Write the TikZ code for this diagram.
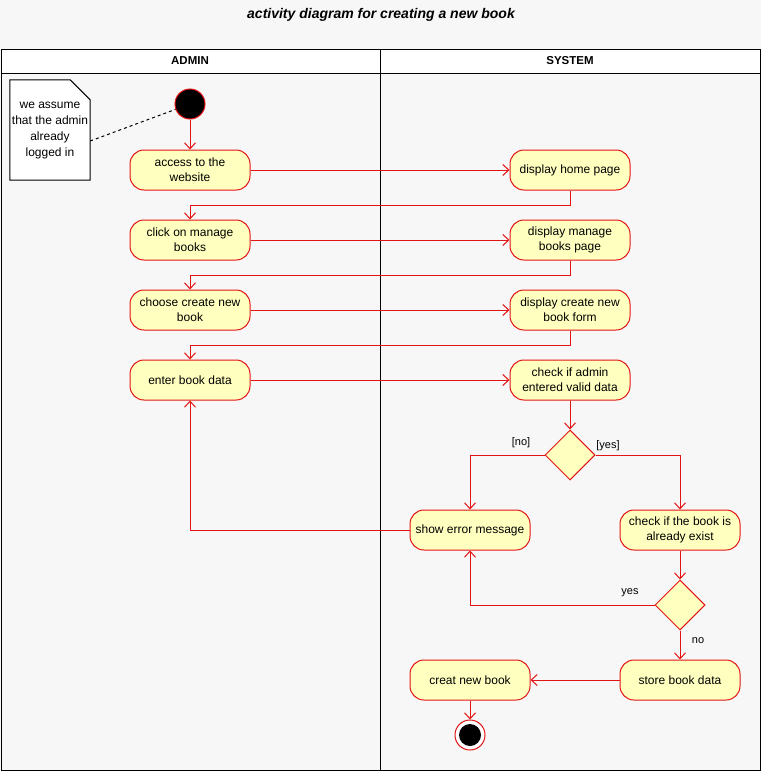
\documentclass[tikz,border=0pt]{standalone}
\usepackage{fontspec}
\setmainfont{Liberation Sans}
\usetikzlibrary{arrows.meta,shapes.geometric}
\definecolor{bgc}{HTML}{F7F7F7}
\definecolor{actc}{HTML}{FFFFC0}
\definecolor{rdc}{HTML}{E31414}
\tikzset{
  act/.style={draw=rdc, fill=actc, line width=1pt, rounded corners=14pt,
    minimum width=120pt, minimum height=40pt, inner sep=1pt, align=center,
    font=\fontsize{12}{15}\selectfont},
  dec/.style={draw=rdc, fill=actc, line width=1pt, diamond, aspect=1,
    minimum width=50pt, minimum height=50pt, inner sep=0pt},
  arr/.style={draw=rdc, line width=1pt, -{Straight Barb[length=6pt,width=11pt]}},
  lbl/.style={font=\fontsize{11}{13}\selectfont, inner sep=1pt},
  lanehead/.style={font=\bfseries\fontsize{11.5}{13}\selectfont}
}
\begin{document}
\begin{tikzpicture}[x=1pt,y=-1pt]
\fill[bgc] (0,0) rectangle (761,771);
\useasboundingbox (0,0) rectangle (761,771);
% title
\node[font=\bfseries\itshape\fontsize{14}{16}\selectfont] (title) at (381,15) {activity diagram for creating a new book};
% pool
\draw[line width=1pt, fill=white] (1,49) rectangle (760,73);
\draw[line width=1pt] (1,73) rectangle (760,770);
\draw[line width=1pt] (380,49) -- (380,770);
\node[lanehead] (ladmin) at (190,61) {ADMIN};
\node[lanehead] (lsys) at (570,61) {SYSTEM};
% note
\node[minimum width=80pt, minimum height=100pt, inner sep=0pt] (notebox) at (50,130) {};
\filldraw[line width=1pt, fill=white] (notebox.north west) -- ([xshift=-20pt]notebox.north east) -- ([yshift=-20pt]notebox.north east) -- (notebox.south east) -- (notebox.south west) -- cycle;
\node[align=center, inner sep=0pt, font=\fontsize{12}{16}\selectfont] (note) at (50,131) {we assume\\that the admin\\already\\logged in};
% start
\node[circle, draw=rdc, fill=black, line width=1pt, minimum size=30pt, inner sep=0pt] (init) at (190,104) {};
% activities
\node[act] (access) at (190,170) {access to the\\website};
\node[act] (home) at (570,170) {display home page};
\node[act] (click) at (190,240) {click on manage\\books};
\node[act] (dmanage) at (570,240) {display manage\\books page};
\node[act] (choose) at (190,310) {choose create new\\book};
\node[act] (dform) at (570,310) {display create new\\book form};
\node[act] (enter) at (190,380) {enter book data};
\node[act] (check) at (570,380) {check if admin\\entered valid data};
\node[dec] (d1) at (570,455) {};
\node[act] (err) at (470,530) {show error message};
\node[act] (exist) at (680,530) {check if the book is\\already exist};
\node[dec] (d2) at (680,605) {};
\node[act] (store) at (680,680) {store book data};
\node[act] (creat) at (470,680) {creat new book};
\node[circle, draw=rdc, fill=white, line width=1pt, minimum size=30pt, inner sep=0pt] (final) at (470,735) {};
\fill[black] (final.center) circle (11pt);
% note link
\draw[dashed, line width=1pt] ([yshift=-11pt]notebox.east) -- (init);
% connectors
\draw[arr] (init) -- (access);
\draw[arr] (access) -- (home);
\draw[arr] (home.south) -- ++(0,15) -| (click.north);
\draw[arr] (click) -- (dmanage);
\draw[arr] (dmanage.south) -- ++(0,15) -| (choose.north);
\draw[arr] (choose) -- (dform);
\draw[arr] (dform.south) -- ++(0,15) -| (enter.north);
\draw[arr] (enter) -- (check);
\draw[arr] (check) -- (d1);
\draw[arr] (d1.west) -| (err.north);
\draw[arr] (d1.east) -| (exist.north);
\draw[arr] (exist) -- (d2);
\draw[arr] (d2.west) -| (err.south);
\draw[arr] (d2) -- (store);
\draw[arr] (store) -- (creat);
\draw[arr] (creat) -- (final);
\draw[arr] (err.west) -| (enter.south);
% labels
\node[lbl] (lno1) at (521,443) {[no]};
\node[lbl] (lyes1) at (608,446) {[yes]};
\node[lbl] (lyes2) at (630,593) {yes};
\node[lbl] (lno2) at (698,641) {no};
\end{tikzpicture}
\end{document}
